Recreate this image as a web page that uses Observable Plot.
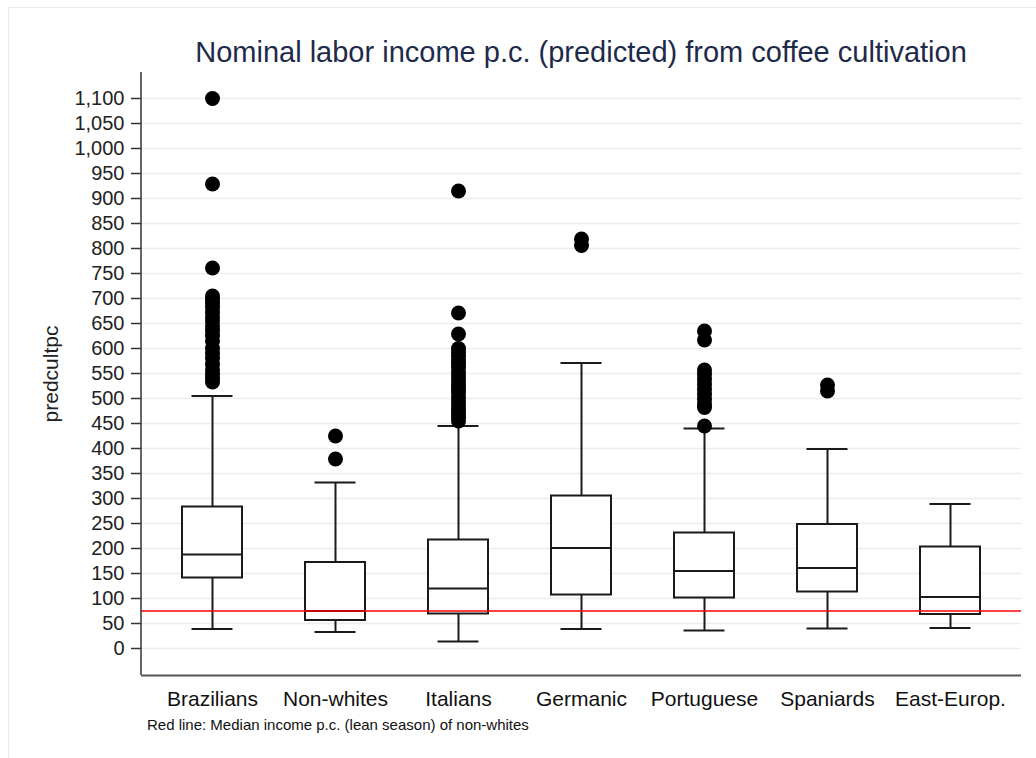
<!DOCTYPE html>
<html>
<head>
<meta charset="utf-8">
<script src="https://cdn.jsdelivr.net/npm/d3@7"></script>
<script src="https://cdn.jsdelivr.net/npm/@observablehq/plot@0.6"></script>
<style>
  body { margin: 0; background: #ffffff; font-family: "Liberation Sans", Arial, sans-serif; }
  #page { position: relative; width: 1036px; height: 758px; overflow: hidden; background: #ffffff; }
  #edge { position: absolute; left: 8px; top: 7px; width: 1040px; height: 800px;
          border-left: 1px solid #ededed; border-top: 1px solid #ededed; pointer-events: none; }
  #title { position: relative; height: 66px; box-sizing: border-box; padding: 38px 15px 0 141px;
           font-size: 29px; line-height: 29px; color: #1e2a4a; text-align: center; white-space: nowrap; }
  #chart svg { display: block; }
  #caption { position: relative; padding-left: 147px; margin-top: 6px; font-size: 15px;
             line-height: 15px; color: #111; white-space: nowrap; }
</style>
</head>
<body>
<div id="page">
  <div id="edge"></div>
  <div id="title">Nominal labor income p.c. (predicted) from coffee cultivation</div>
  <div id="chart"></div>
  <div id="caption">Red line: Median income p.c. (lean season) of non-whites</div>
</div>
<script>
// Groups shown along the x axis
const groups = ["Brazilians", "Non-whites", "Italians", "Germanic", "Portuguese", "Spaniards", "East-Europ."];

// Box-plot summaries per group (predicted labor income p.c.)
const lowerWhisker = [39, 33, 14, 39, 36, 40, 41];
const quartile1    = [141, 56, 69, 107, 101, 113, 68];
const median       = [188, 75, 120, 201, 155, 161, 103];
const quartile3    = [283, 172, 217, 305, 231, 248, 203];
const upperWhisker = [505, 332, 445, 571, 440, 399, 289];

// Outside values per group
const outBrazilians = [1100, 929, 761, 705, 698, 690, 682, 672, 663, 655, 645, 636, 626, 615, 600, 590, 580, 568, 557, 548, 540, 533];
const outNonWhites  = [425, 379];
const outItalians   = [915, 671, 629, 600, 592, 585, 577, 570, 562, 553, 545, 537, 528, 520, 512, 503, 495, 487, 478, 470, 462, 455];
const outGermanic   = [819, 806];
const outPortuguese = [635, 617, 557, 548, 538, 528, 518, 508, 498, 489, 482, 445];
const outSpaniards  = [527, 515];
const outEastEurop  = [];

// Reference level: median income p.c. (lean season) of non-whites
const redLine = 75;

// Y-axis ticks
const yTicks = [0, 50, 100, 150, 200, 250, 300, 350, 400, 450, 500, 550,
                600, 650, 700, 750, 800, 850, 900, 950, 1000, 1050, 1100];

const outlierLists = [outBrazilians, outNonWhites, outItalians, outGermanic, outPortuguese, outSpaniards, outEastEurop];

const boxes = groups.map((g, i) => ({
  group: g, lo: lowerWhisker[i], q1: quartile1[i], med: median[i], q3: quartile3[i], hi: upperWhisker[i]
}));
const outliers = groups.flatMap((g, i) => outlierLists[i].map(v => ({group: g, value: v})));

const ink = "#1a1a1a";
const yDomain = [-54, 1152];

// Left axis line along the frame edge
function leftAxisLine(index, scales, values, dims) {
  return d3.create("svg:line")
    .attr("x1", dims.marginLeft).attr("x2", dims.marginLeft)
    .attr("y1", dims.marginTop).attr("y2", dims.height - dims.marginBottom)
    .attr("stroke", "#333").attr("stroke-width", 1.5)
    .node();
}

const chart = Plot.plot({
  width: 1036,
  height: 645,
  marginLeft: 141,
  marginRight: 15,
  marginTop: 6,
  marginBottom: 36,
  style: {fontFamily: '"Liberation Sans", Arial, sans-serif', fontSize: "20px", background: "transparent", color: "#222"},
  x: {type: "band", domain: groups, paddingInner: 0.515, paddingOuter: 0.3145},
  y: {domain: yDomain},
  marks: [
    // horizontal grid
    Plot.ruleY(yTicks, {stroke: "#e6eef0", strokeWidth: 1.5}),
    // whiskers
    Plot.ruleX(boxes, {x: "group", y1: "lo", y2: "q1", stroke: ink, strokeWidth: 2}),
    Plot.ruleX(boxes, {x: "group", y1: "q3", y2: "hi", stroke: ink, strokeWidth: 2}),
    Plot.tickY(boxes, {x: "group", y: "lo", inset: 9.5, stroke: ink, strokeWidth: 2}),
    Plot.tickY(boxes, {x: "group", y: "hi", inset: 9.5, stroke: ink, strokeWidth: 2}),
    // interquartile boxes and medians
    Plot.barY(boxes, {x: "group", y1: "q1", y2: "q3", fill: "#ffffff", stroke: ink, strokeWidth: 2}),
    Plot.tickY(boxes, {x: "group", y: "med", stroke: ink, strokeWidth: 2}),
    // reference line
    Plot.ruleY([redLine], {stroke: "#ff0000", strokeWidth: 1.5}),
    // outside values
    Plot.dot(outliers, {x: "group", y: "value", r: 7.5, fill: "#000000", stroke: null}),
    // axes
    Plot.axisY({ticks: yTicks, tickFormat: d3.format(","), tickSize: 10, tickPadding: 7, fontSize: 20,
                label: null, stroke: "#333", strokeWidth: 1.5, fill: "#222"}),
    leftAxisLine,
    Plot.ruleY([yDomain[0]], {stroke: "#555", strokeWidth: 2}),
    Plot.axisX({tickSize: 0, tickPadding: 16, fontSize: 21, label: null, fill: "#111"}),
    Plot.text(["predcultpc"], {frameAnchor: "left", textAnchor: "middle", rotate: -90, dx: -90, fontSize: 21, fill: "#222"})
  ]
});

document.getElementById("chart").appendChild(chart);
</script>
</body>
</html>
